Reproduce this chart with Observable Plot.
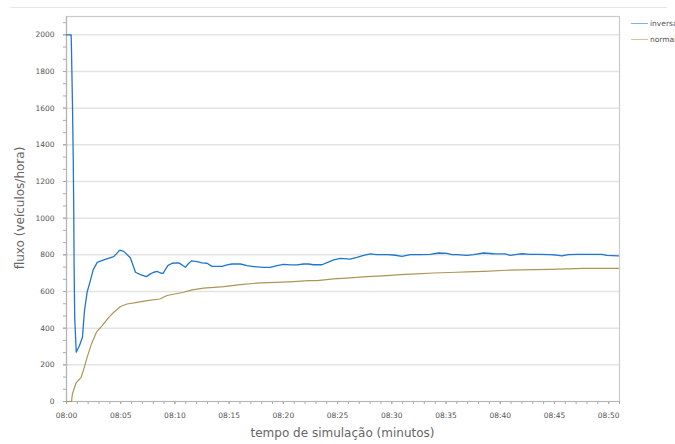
<!DOCTYPE html>
<html>
<head>
<meta charset="utf-8">
<script src="https://cdn.jsdelivr.net/npm/d3@7"></script>
<script src="https://cdn.jsdelivr.net/npm/@observablehq/plot@0.6"></script>
<style>
  html, body { margin: 0; padding: 0; background: #fff; overflow: hidden; }
  #wrap { position: relative; width: 675px; height: 444px; font-family: "DejaVu Sans", sans-serif; }
  #topline { position: absolute; left: 10px; right: 8px; top: 7px; height: 0; border-top: 1px solid #e6e6e6; }
  .title { position: absolute; color: #666; font-size: 12px; white-space: nowrap; }
  #xtitle { left: 0; width: 685px; text-align: center; top: 426px; }
  #ytitle { left: 20px; top: 208px; transform: translate(-50%, -50%) rotate(-90deg); }
  .leg { position: absolute; left: 631px; font-size: 7.5px; color: #555; white-space: nowrap; line-height: 10px; }
  .leg span.sw { display: inline-block; width: 17px; height: 1px; vertical-align: middle; margin-right: 2px; }
</style>
</head>
<body>
<div id="wrap">
  <div id="topline"></div>
  <div id="chart"></div>
  <div class="title" id="xtitle">tempo de simulação (minutos)</div>
  <div class="title" id="ytitle">fluxo (veículos/hora)</div>
  <div id="legend"></div>
</div>
<script>
// Series: time in minutes after 08:00, flow in vehicles/hour
const seriesNames = ["inversa", "normal"];
const seriesColors = ["#1f76d2", "#ad9556"];
const legendColors = ["#7fb2e8", "#d6c59c"];

const inversaT = [0, 0.43, 0.46, 0.55, 0.62, 0.67, 0.7, 0.76, 0.9, 1.2, 1.47, 1.66, 1.9, 2.2, 2.46, 2.83, 3.44, 4.36, 4.6, 4.91, 5.28, 5.9, 6.36, 6.82, 7.37, 7.74, 8.05, 8.36, 8.66, 8.91, 9.34, 9.74, 10.35, 10.66, 10.97, 11.21, 11.52, 12.04, 12.5, 12.96, 13.42, 13.88, 14.35, 14.8, 15.27, 16.04, 16.65, 17.26, 18.19, 18.8, 19.42, 20.03, 20.64, 21.26, 21.87, 22.33, 22.79, 23.56, 24.03, 24.64, 25.25, 26.17, 26.79, 27.4, 28.02, 28.63, 29.56, 30.17, 30.94, 31.71, 32.63, 33.55, 34.32, 35.09, 35.55, 36.0, 36.93, 37.54, 38.46, 39.38, 40.46, 40.92, 41.54, 42.0, 42.77, 43.69, 44.6, 45.16, 45.69, 46.29, 47.07, 48.3, 49.37, 49.83, 50.9];
const inversaV = [2000, 2000, 1918, 1624, 1331, 1037, 752, 452, 269, 305, 350, 496, 596, 659, 718, 759, 772, 790, 805, 826, 819, 783, 705, 692, 681, 696, 705, 710, 701, 699, 741, 754, 756, 745, 732, 750, 767, 763, 756, 754, 737, 737, 737, 745, 750, 750, 741, 736, 732, 732, 741, 748, 745, 745, 750, 750, 746, 746, 757, 772, 781, 777, 786, 797, 805, 801, 801, 799, 792, 801, 801, 803, 810, 808, 801, 801, 797, 801, 810, 806, 805, 797, 803, 806, 803, 803, 801, 799, 794, 801, 803, 803, 803, 797, 794];

const normalT = [0, 0.46, 0.55, 0.89, 1.35, 1.6, 1.9, 2.3, 2.76, 3.29, 3.9, 4.36, 4.98, 5.59, 6.51, 7.44, 8.6, 9.28, 10.81, 11.58, 12.65, 14.5, 16.04, 17.88, 19.42, 20.95, 22.33, 23.1, 24.64, 26.17, 27.71, 29.56, 30.78, 32.32, 33.86, 36.01, 36.93, 38.46, 40.62, 43.07, 44.6, 46.15, 47.68, 50.9];
const normalV = [0, 0, 42, 102, 132, 178, 241, 314, 378, 414, 459, 487, 518, 532, 541, 550, 559, 578, 596, 609, 618, 627, 638, 647, 650, 654, 659, 659, 669, 674, 681, 687, 692, 696, 701, 705, 707, 710, 716, 719, 721, 723, 726, 726];

const yTickValues = [0, 200, 400, 600, 800, 1000, 1200, 1400, 1600, 1800, 2000];
const yTickLabels = ["0", "200", "400", "600", "800", "1000", "1200", "1400", "1600", "1800", "2000"];
const xTickValues = [0, 5, 10, 15, 20, 25, 30, 35, 40, 45, 50];
const xTickLabels = ["08:00", "08:05", "08:10", "08:15", "08:20", "08:25", "08:30", "08:35", "08:40", "08:45", "08:50"];

const inversa = inversaT.map((t, i) => ({t, v: inversaV[i]}));
const normal = normalT.map((t, i) => ({t, v: normalV[i]}));

const yMinor = d3.range(0, 2100, 200 / 3);
const xMinor = d3.range(0, 52, 1);

const chart = Plot.plot({
  width: 675,
  height: 444,
  marginLeft: 66,
  marginRight: 56,
  marginTop: 16,
  marginBottom: 43,
  style: { fontFamily: "DejaVu Sans, sans-serif", fontSize: "7.5px", color: "#555", background: "transparent" },
  x: { domain: [0, 51], label: null },
  y: { domain: [0, 2100], label: null },
  marks: [
    Plot.ruleY(yTickValues.filter(d => d > 0), { stroke: "#e3e3e3", strokeWidth: 1.5 }),
    Plot.frame({ stroke: "#cbcbcb", strokeWidth: 1.2 }),
    Plot.axisY(yMinor, { tickSize: 3, stroke: "#aaa", tickFormat: () => "", label: null }),
    Plot.axisY(yTickValues, { tickSize: 3, tickPadding: 9, stroke: "#aaa", fill: "#555", tickFormat: (d, i) => yTickLabels[i], label: null }),
    Plot.axisX(xMinor, { tickSize: 3, stroke: "#aaa", tickFormat: () => "", label: null }),
    Plot.axisX(xTickValues, { tickSize: 3, tickPadding: 8, stroke: "#aaa", fill: "#555", tickFormat: (d, i) => xTickLabels[i], label: null }),
    Plot.ruleY([0], { stroke: "#b5b5b5", strokeWidth: 1.2 }),
    Plot.ruleX([0], { stroke: "#b5b5b5", strokeWidth: 1.2 }),
    Plot.line(normal, { x: "t", y: "v", stroke: seriesColors[1], strokeWidth: 1.2 }),
    Plot.line(inversa, { x: "t", y: "v", stroke: seriesColors[0], strokeWidth: 1.3 })
  ]
});
document.getElementById("chart").appendChild(chart);

const legend = document.getElementById("legend");
seriesNames.forEach((name, i) => {
  const d = document.createElement("div");
  d.className = "leg";
  d.style.top = (19 + i * 16) + "px";
  const sw = document.createElement("span");
  sw.className = "sw";
  sw.style.background = legendColors[i];
  d.appendChild(sw);
  d.appendChild(document.createTextNode(name));
  legend.appendChild(d);
});
</script>
</body>
</html>
